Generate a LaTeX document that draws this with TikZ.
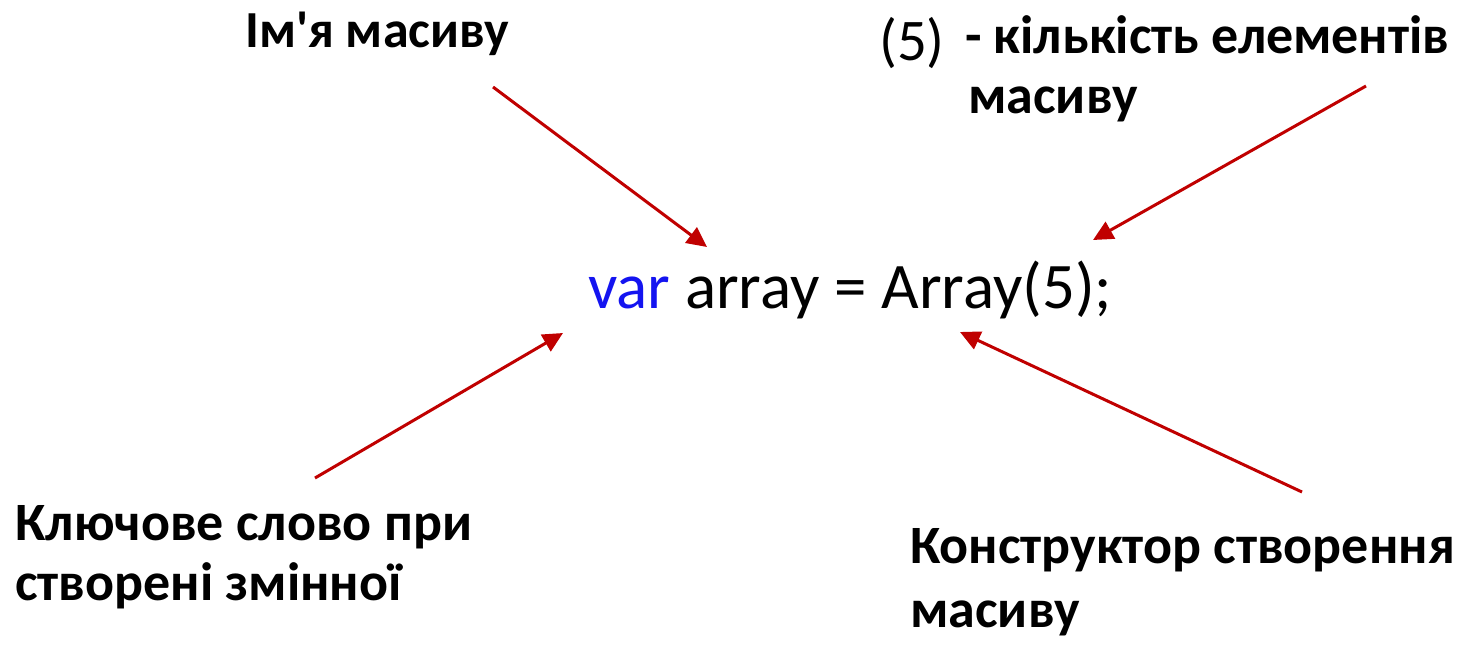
\documentclass[tikz,border=0pt]{standalone}
\usepackage{fontspec}
\newfontfamily\calibri{Carlito}
\usetikzlibrary{arrows.meta}
\definecolor{arrowred}{RGB}{192,0,0}
\definecolor{kwblue}{RGB}{20,20,240}
\tikzset{
  lbl/.style={font=\calibri\fontsize{54}{54}\selectfont\bfseries, inner sep=0pt, anchor=base west, text=black},
  code/.style={font=\calibri\fontsize{65}{65}\selectfont, inner sep=0pt, anchor=base west, text=black},
  pointer/.style={draw=arrowred, line width=3pt, -{Triangle[length=20pt,width=19pt]}}
}
\begin{document}
\begin{tikzpicture}[x=1pt,y=-1pt]
\useasboundingbox (0,0) rectangle (1465,646);
% labels
\node[lbl, font=\calibri\fontsize{52}{52}\selectfont\bfseries] (name) at (245,47) {Ім'я масиву};
\node[code, font=\calibri\fontsize{59}{59}\selectfont] (five) at (879,60) {(5)};
\node[lbl] (countA) at (965,53) {- кількість елементів};
\node[lbl] (countB) at (968,113) {масиву};
\node[lbl] (kwA) at (15,540) {Ключове слово при};
\node[lbl] (kwB) at (15,600) {створені змінної};
\node[lbl] (ctorA) at (910,563) {Конструктор створення};
\node[lbl] (ctorB) at (910,627) {масиву};
% code
\node[code] (codeline) at (588,308) {\textcolor{kwblue}{var} array = Array(5);};
% arrow ends
\coordinate (s1) at (493,87);   \coordinate (t1) at (707,247);
\coordinate (s2) at (1366,86);  \coordinate (t2) at (1093,240);
\coordinate (s3) at (315,478);  \coordinate (t3) at (563,333);
\coordinate (s4) at (1302,492); \coordinate (t4) at (960,332);
\draw[pointer] (s1) -- (t1);
\draw[pointer] (s2) -- (t2);
\draw[pointer] (s3) -- (t3);
\draw[pointer] (s4) -- (t4);
\end{tikzpicture}
\end{document}
